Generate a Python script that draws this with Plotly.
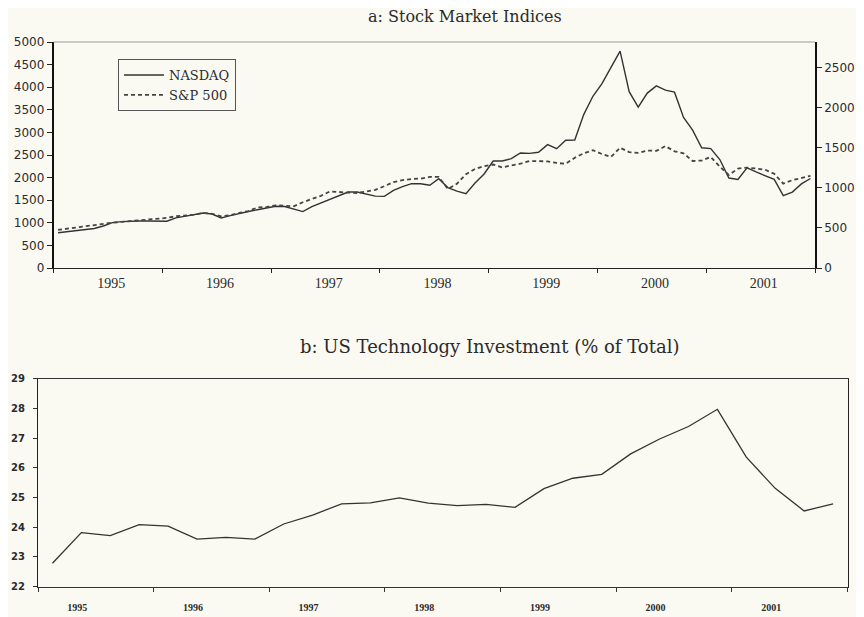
import plotly.graph_objects as go

# ---------------- data ----------------
start_year = 1995
n_years = 7
year_labels = ["1995", "1996", "1997", "1998", "1999", "2000", "2001"]

# Monthly values Jan 1995 .. Dec 2001
nasdaq = [
    780, 800, 820, 840, 875, 930, 1004, 1025, 1040, 1040, 1040, 1040,
    1035, 1110, 1140, 1170, 1215, 1195, 1106, 1160, 1210, 1250, 1290, 1320,
    1365, 1360, 1310, 1248, 1360, 1440, 1530, 1615, 1681, 1681, 1640, 1590,
    1585, 1715, 1800, 1867, 1865, 1830, 1975, 1780, 1700, 1646, 1880, 2080,
    2367, 2367, 2420, 2544, 2535, 2560, 2730, 2640, 2825, 2830, 3400, 3800,
    4080, 4450, 4800, 3900, 3560, 3870, 4030, 3935, 3890, 3330, 3050, 2660,
    2640, 2400, 1990, 1960, 2215, 2125, 2050, 1960, 1600, 1680, 1860, 1980,
]
sp500 = [
    475, 490, 505, 525, 540, 553, 565, 575, 585, 590, 600, 616,
    625, 645, 655, 665, 686, 675, 645, 660, 686, 710, 755, 760,
    782, 775, 770, 820, 860, 900, 955, 945, 940, 935, 955, 975,
    1020, 1072, 1095, 1110, 1115, 1135, 1135, 985, 1050, 1170, 1235, 1270,
    1290, 1255, 1280, 1300, 1334, 1334, 1330, 1310, 1300, 1375, 1430, 1470,
    1420, 1385, 1500, 1445, 1435, 1465, 1460, 1520, 1455, 1430, 1334, 1340,
    1384, 1265, 1160, 1240, 1252, 1240, 1225, 1175, 1052, 1095, 1125, 1150,
]
# Quarterly 1995Q1 .. 2001Q4
tech_share = [
    22.79, 23.82, 23.72, 24.09, 24.04, 23.60, 23.66, 23.60,
    24.11, 24.41, 24.79, 24.82, 24.99, 24.81, 24.73, 24.77,
    24.67, 25.30, 25.65, 25.78, 26.47, 26.97, 27.39, 27.97,
    26.36, 25.31, 24.55, 24.79,
]

month_x = [start_year + (i + 0.5) / 12 for i in range(len(nasdaq))]
quarter_x = [start_year + (i + 0.5) / 4 for i in range(len(tech_share))]
year_starts = [start_year + k for k in range(n_years + 1)]

BG = "#fafaf3"
INK = "#2b2b2b"
OFF = 8            # page body offset of the figure inside the window
W, H = 864 - OFF, 617 - OFF


def px_x(a, b):
    return [(a - OFF) / W, (b - OFF) / W]


def px_y(top, bottom):
    return [1 - (bottom - OFF) / H, 1 - (top - OFF) / H]


fig = go.Figure()
fig.add_trace(go.Scatter(x=month_x, y=nasdaq, name="NASDAQ", mode="lines",
                         line=dict(color="#333333", width=1.4),
                         xaxis="x", yaxis="y"))
fig.add_trace(go.Scatter(x=month_x, y=sp500, name="S&P 500", mode="lines",
                         line=dict(color="#444444", width=1.8, dash="4px,3px"),
                         xaxis="x", yaxis="y2"))
fig.add_trace(go.Scatter(x=quarter_x, y=tech_share, name="tech", mode="lines",
                         line=dict(color="#333333", width=1.3),
                         xaxis="x2", yaxis="y3", showlegend=False))

fig.update_layout(
    width=W, height=H, autosize=False,
    margin=dict(l=0, r=0, t=0, b=0, pad=0, autoexpand=False),
    paper_bgcolor=BG, plot_bgcolor=BG,
    font=dict(family="Liberation Serif", color=INK),
    showlegend=True,
    legend=dict(x=(118 - OFF) / W, y=1 - (59 - OFF) / H, xanchor="left", yanchor="top",
                bgcolor=BG, bordercolor="#555555", borderwidth=1,
                font=dict(family="DejaVu Serif", size=13, color=INK),
                tracegroupgap=0, itemwidth=40),
    xaxis=dict(domain=px_x(53.5, 815), range=[start_year, start_year + n_years],
               anchor="y", showgrid=False, zeroline=False, automargin=False,
               showline=True, linecolor="#222222", linewidth=1.2,
               tickmode="array", tickvals=[start_year + k + 0.53 for k in range(n_years)],
               ticktext=year_labels, ticks="", ticklabelstandoff=2,
               tickfont=dict(family="Liberation Serif", size=14, color=INK),
               minor=dict(tickmode="array", tickvals=year_starts, ticks="outside",
                          ticklen=4, tickcolor="#222222")),
    yaxis=dict(domain=px_y(42, 268), range=[0, 5000], anchor="x",
               showgrid=False, zeroline=False, automargin=False,
               showline=True, linecolor="#111111", linewidth=1.5,
               tickmode="array", tickvals=list(range(0, 5001, 500)),
               ticks="outside", ticklen=5, tickcolor="#222222",
               tickfont=dict(family="DejaVu Sans", size=12, color=INK)),
    yaxis2=dict(overlaying="y", side="right", anchor="x", range=[0, 2818],
                showgrid=False, zeroline=False, automargin=False,
                showline=True, linecolor="#111111", linewidth=1.5,
                tickmode="array", tickvals=list(range(0, 2501, 500)),
                ticks="outside", ticklen=5, tickcolor="#222222",
                tickfont=dict(family="DejaVu Sans", size=12, color=INK)),
    xaxis2=dict(domain=px_x(38, 847.5), range=[start_year, start_year + n_years],
                anchor="y3", showgrid=False, zeroline=False, automargin=False,
                showline=True, linecolor="#333333", linewidth=1.2, mirror=True,
                tickmode="array", tickvals=[start_year + k + 0.34 for k in range(n_years)],
                ticktext=year_labels, ticks="", ticklabelstandoff=11,
                tickfont=dict(family="Liberation Serif", size=10, color=INK, weight="bold"),
                minor=dict(tickmode="array", tickvals=year_starts, ticks="outside",
                           ticklen=4, tickcolor="#333333")),
    yaxis3=dict(domain=px_y(378.7, 586.7), range=[22, 29], anchor="x2",
                showgrid=False, zeroline=False, automargin=False,
                showline=True, linecolor="#222222", linewidth=1.3, mirror=True,
                tickmode="array", tickvals=list(range(22, 30)),
                ticks="outside", ticklen=4, tickcolor="#333333", ticklabelstandoff=6,
                tickfont=dict(family="DejaVu Sans", size=10, color=INK, weight="bold")),
)

# faint top border of upper panel
fig.add_shape(type="line", xref="x domain", yref="y domain", x0=0, x1=1, y0=1, y1=1,
              line=dict(color="#9a9a9a", width=1.2))

fig.add_annotation(text="a: Stock Market Indices", xref="paper", yref="paper",
                   x=(465 - OFF) / W, y=1 - (17 - OFF) / H, showarrow=False,
                   xanchor="center", yanchor="middle",
                   font=dict(family="DejaVu Serif", size=16, color=INK))
fig.add_annotation(text="b: US Technology Investment (% of Total)", xref="paper", yref="paper",
                   x=(489 - OFF) / W, y=1 - (346 - OFF) / H, showarrow=False,
                   xanchor="center", yanchor="middle",
                   font=dict(family="DejaVu Serif", size=18, color=INK))

fig.write_html("out.html")
